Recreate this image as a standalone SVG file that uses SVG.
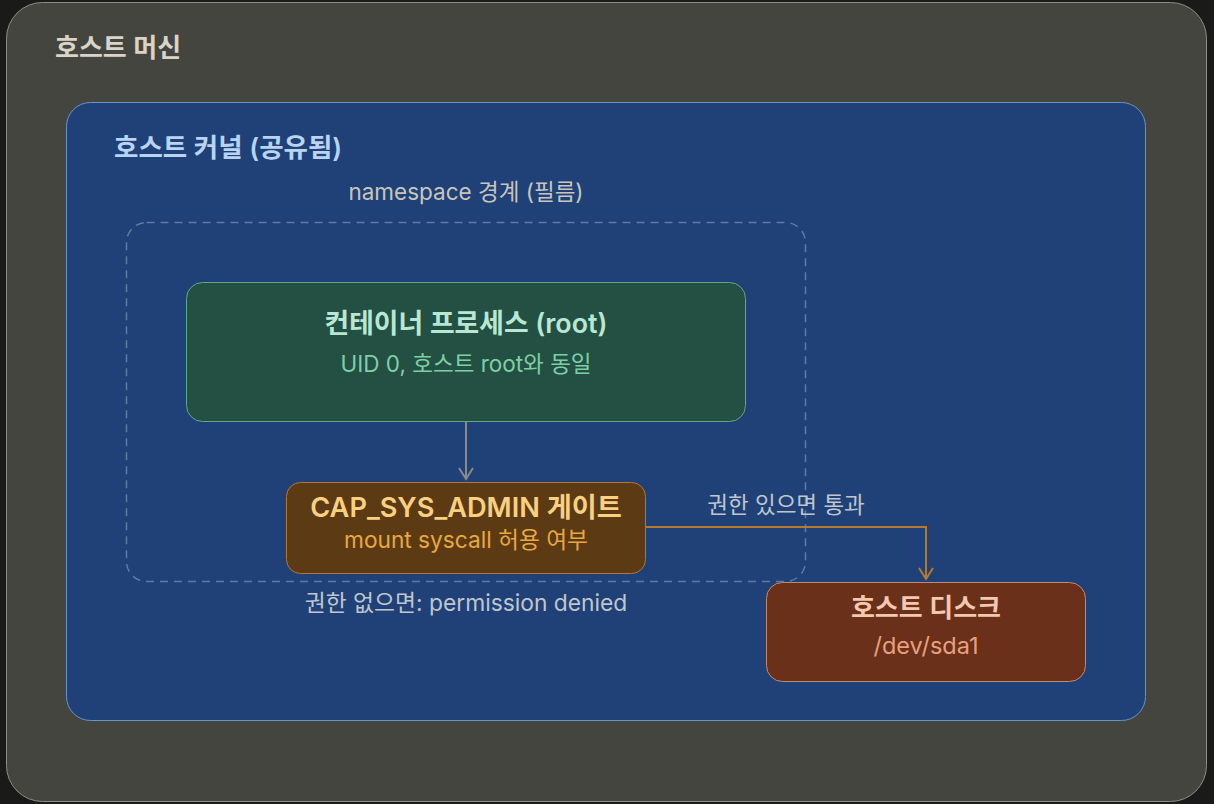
<svg xmlns="http://www.w3.org/2000/svg" width="1214" height="804" viewBox="0 0 1214 804">
<defs>
<style>
text{font-family:Inter,"Noto Sans CJK KR",sans-serif;}
.t{font-weight:600;}
.c{text-anchor:middle;}
</style>
<marker id="ag" markerWidth="16" markerHeight="16" refX="13" refY="8" orient="auto" markerUnits="userSpaceOnUse" viewBox="0 0 16 16">
<path d="M2,1 L13,8 L2,15" fill="none" stroke="#8a8a88" stroke-width="2"/>
</marker>
<marker id="ao" markerWidth="16" markerHeight="16" refX="13" refY="8" orient="auto" markerUnits="userSpaceOnUse" viewBox="0 0 16 16">
<path d="M2,1 L13,8 L2,15" fill="none" stroke="#b57a30" stroke-width="2"/>
</marker>
</defs>
<rect width="1214" height="804" fill="#1a1a18"/>
<g id="host">
<rect x="6.5" y="2.5" width="1200" height="799" rx="36" fill="#454540" stroke="#8e8e88" stroke-width="1"/>
<text x="55" y="57" font-size="26" class="t" fill="#d8d4c8">호스트 머신</text>
</g>
<g id="kernel">
<rect x="66.5" y="102.5" width="1079" height="618" rx="24" fill="#1f4177" stroke="#6b93c8" stroke-width="1"/>
<text x="114" y="157" font-size="26.5" class="t" fill="#b8d4f2">호스트 커널 (공유됨)</text>
</g>
<g id="namespace">
<rect x="126.5" y="222.5" width="679" height="359" rx="20" fill="none" stroke="#5f7ba3" stroke-width="1.5" stroke-dasharray="8 6"/>
<text x="466" y="200" font-size="22.5" class="c" fill="#c8c6bc">namespace 경계 (필름)</text>
</g>
<g id="connectors">
<line x1="466" y1="422" x2="466" y2="479" stroke="#8a8a88" stroke-width="2" marker-end="url(#ag)"/>
<polyline points="646,527 926,527 926,579" fill="none" stroke="#b57a30" stroke-width="2" marker-end="url(#ao)"/>
<text x="786" y="513" font-size="22.5" class="c" fill="#c0c6cc">권한 있으면 통과</text>
<text x="466" y="611" font-size="22.8" class="c" fill="#c0c6cc">권한 없으면: permission denied</text>
</g>
<g id="container">
<rect x="186.5" y="282.5" width="559" height="139" rx="16" fill="#235042" stroke="#5fa88a" stroke-width="1"/>
<text x="466" y="333" font-size="26.8" class="t c" fill="#b8e8d4">컨테이너 프로세스 (root)</text>
<text x="466" y="372" font-size="22.5" class="c" fill="#7ecfa8">UID 0, 호스트 root와 동일</text>
</g>
<g id="gate">
<rect x="286.5" y="482.5" width="359" height="91" rx="14" fill="#5c3b14" stroke="#b07830" stroke-width="1"/>
<text x="466" y="517" font-size="27.2" class="t c" fill="#f8d080">CAP_SYS_ADMIN 게이트</text>
<text x="466" y="548" font-size="22.7" class="c" fill="#e8a840">mount syscall 허용 여부</text>
</g>
<g id="disk">
<rect x="766.5" y="582.5" width="319" height="99" rx="16" fill="#6a3019" stroke="#c08a70" stroke-width="1"/>
<text x="926" y="617" font-size="26" class="t c" fill="#f4c8b0">호스트 디스크</text>
<text x="926" y="654" font-size="23.5" class="c" fill="#e8a080">/dev/sda1</text>
</g>
</svg>
